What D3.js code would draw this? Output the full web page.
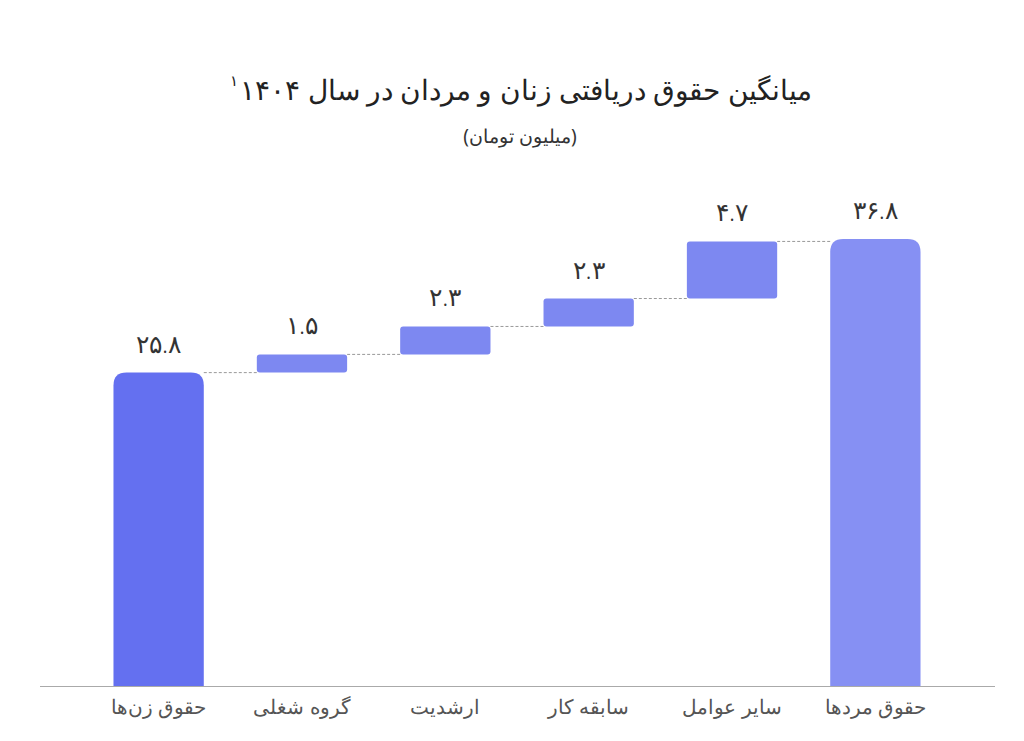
<!DOCTYPE html><html><head><meta charset="utf-8"><script src="https://cdn.jsdelivr.net/npm/d3@7"></script>
<style>body{margin:0;background:#fff}</style></head><body><svg id="c" width="1024" height="741"></svg><script>
const categories=["حقوق زن‌ها","گروه شغلی","ارشدیت","سابقه کار","سایر عوامل","حقوق مردها"];
const values=[25.8,1.5,2.3,2.3,4.7,36.8];
const types=["total","step","step","step","step","total"];
const valueLabels=["۲۵.۸","۱.۵","۲.۳","۲.۳","۴.۷","۳۶.۸"];
const colors={first:"#6470f0",step:"#7d88f1",last:"#8690f3"};
const svg=d3.select("#c");const F="'Noto Sans',sans-serif";
const x=d3.scaleBand().domain(categories).range([41.8,992.2]).paddingInner(0.37).paddingOuter(0.5);
const y=d3.scaleLinear().domain([0,36.8]).range([686,239]);
let cum=0;const bars=values.map((v,i)=>{let b0,b1;if(types[i]=="total"){b0=0;b1=v;cum=v;}else{b0=cum;b1=cum+v;cum=b1;}return{c:categories[i],b0,b1,i,v};});
bars.forEach((d,i)=>{if(i<bars.length-1){const n=bars[i+1];const yy=y(d.b1);svg.append("line").attr("x1",x(d.c)+x.bandwidth()).attr("x2",x(n.c)).attr("y1",yy).attr("y2",yy).attr("stroke","#999").attr("stroke-dasharray","3,2").attr("stroke-width",1);}});
bars.forEach((d,i)=>{const big=types[i]=="total";const r=big?13:3;const X=x(d.c),W=x.bandwidth(),Y=y(d.b1),H=y(d.b0)-y(d.b1);
const col=i==0?colors.first:(i==bars.length-1?colors.last:colors.step);
if(big){svg.append("path").attr("d",`M${X},${Y+H}V${Y+r}Q${X},${Y} ${X+r},${Y}H${X+W-r}Q${X+W},${Y} ${X+W},${Y+r}V${Y+H}Z`).attr("fill",col);}
else svg.append("rect").attr("x",X).attr("y",Y).attr("width",W).attr("height",H).attr("rx",r).attr("fill",col);
svg.append("text").attr("x",X+W/2).attr("y",Y-20).attr("text-anchor","middle").attr("font-family",F).attr("font-size",25).attr("font-weight",300).attr("fill","#333").text(valueLabels[i]);});
svg.append("line").attr("x1",40).attr("x2",995).attr("y1",686.5).attr("y2",686.5).attr("stroke","#aaa");
const ax=svg.append("g").attr("transform","translate(0,686)").call(d3.axisBottom(x).tickSize(0).tickPadding(14));
ax.select(".domain").remove();ax.selectAll("text").attr("font-family",F).attr("font-size",20).attr("fill","#555").attr("direction","rtl");
const t=svg.append("text").attr("x",526).attr("y",100).attr("text-anchor","middle").attr("font-family",F).attr("font-size",28).attr("fill","#222").attr("direction","rtl").text("میانگین حقوق دریافتی زنان و مردان  در سال ۱۴۰۴");
const bb=t.node().getBBox();
svg.append("text").attr("x",bb.x-2).attr("y",86).attr("text-anchor","end").attr("font-family",F).attr("font-size",15).attr("fill","#222").text("۱");
svg.append("text").attr("x",520).attr("y",143).attr("text-anchor","middle").attr("font-family",F).attr("font-size",19).attr("fill","#333").attr("direction","rtl").text("(میلیون تومان)");
</script></body></html>
